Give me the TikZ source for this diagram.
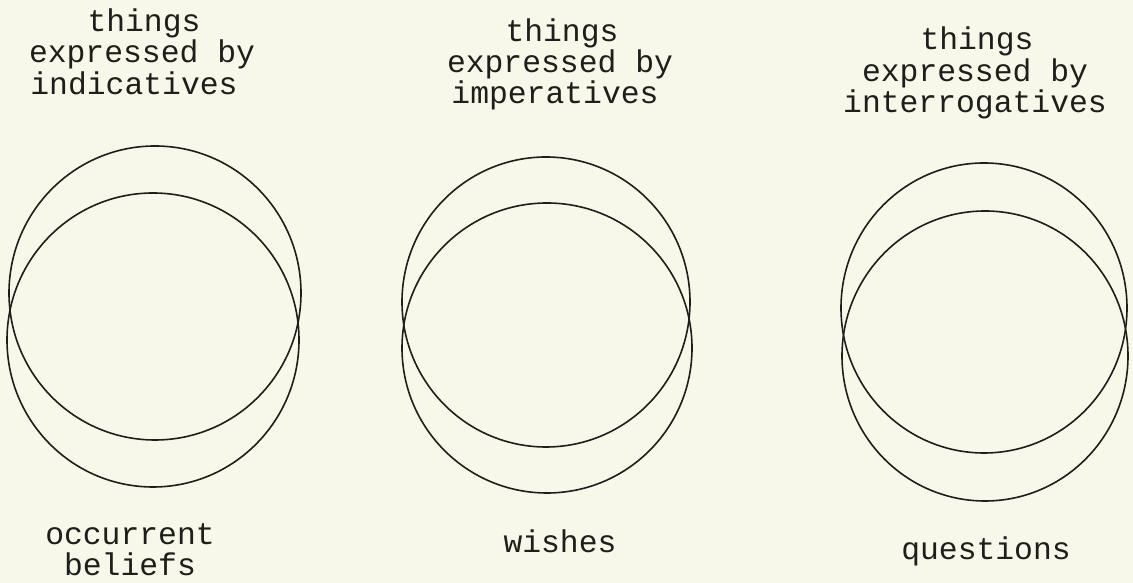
\documentclass[tikz,border=0pt]{standalone}
\usepackage{fontspec}
\setmonofont{Liberation Mono}
\definecolor{bgc}{RGB}{247,248,234}
\definecolor{inkc}{RGB}{30,30,26}
\begin{document}
\begin{tikzpicture}[x=1bp,y=1bp,
  ring/.style={draw=inkc, line width=1.6bp},
  lbl/.style={font=\ttfamily\fontsize{31.5}{31.5}\selectfont, text=inkc, inner sep=0pt, anchor=base}]
\fill[bgc] (0,0) rectangle (1133,583);
\useasboundingbox (0,0) rectangle (1133,583);
% panel 1
\draw[ring] (155,290) ellipse [x radius=146, y radius=147];
\draw[ring] (153,243) ellipse [x radius=146, y radius=147];
\node[lbl] (a1) at (144,551) {things};
\node[lbl] (a2) at (142,520) {expressed by};
\node[lbl] (a3) at (134,488) {indicatives};
\node[lbl] (a4) at (130,38) {occurrent};
\node[lbl] (a5) at (130,7) {beliefs};
% panel 2
\draw[ring] (546,281) ellipse [x radius=144, y radius=145];
\draw[ring] (547,235) ellipse [x radius=145, y radius=145];
\node[lbl] (b1) at (562,541) {things};
\node[lbl] (b2) at (560,510) {expressed by};
\node[lbl] (b3) at (555,479) {imperatives};
\node[lbl] (b4) at (560,30) {wishes};
% panel 3
\draw[ring] (984,275) ellipse [x radius=143, y radius=145];
\draw[ring] (985,227) ellipse [x radius=143, y radius=145];
\node[lbl] (c1) at (977,533) {things};
\node[lbl] (c2) at (975,501) {expressed by};
\node[lbl] (c3) at (975,470) {interrogatives};
\node[lbl] (c4) at (986,23) {questions};
\end{tikzpicture}
\end{document}
